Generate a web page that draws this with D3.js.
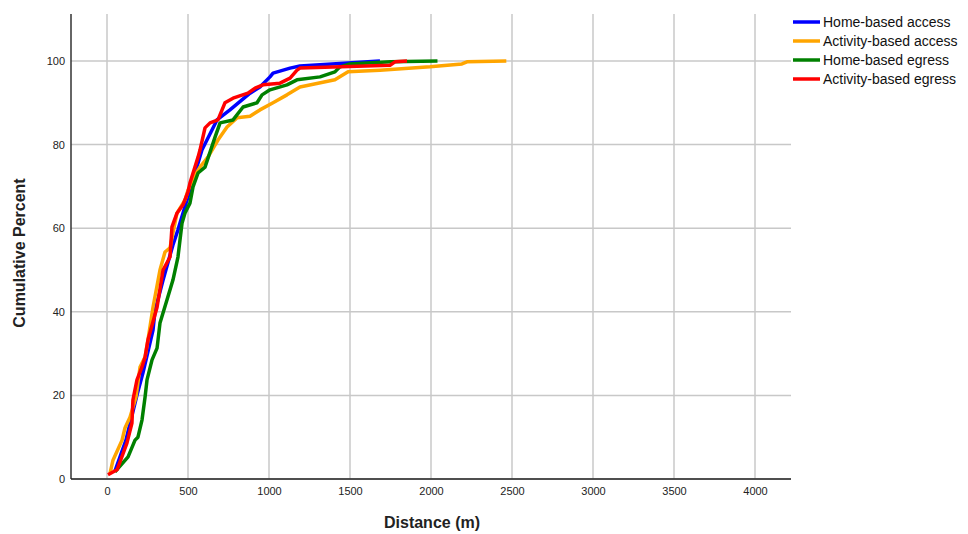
<!DOCTYPE html>
<html>
<head>
<meta charset="utf-8">
<script src="https://cdn.jsdelivr.net/npm/d3@7"></script>
<style>
  body { margin: 0; background: #fff; }
  svg { font-family: "Liberation Sans", Arial, sans-serif; }
</style>
</head>
<body>
<svg id="chart" width="968" height="534"></svg>
<script>
// distance (m) and cumulative percent
var homeAccessDist = [49, 117, 185, 222, 284, 296, 346, 407, 438, 512, 586, 617, 679, 759, 833, 883, 944, 1006, 1025, 1130, 1191, 1685];
var homeAccessPct  = [1.9, 9.3, 20.1, 25.4, 35.6, 40.2, 47.6, 56.0, 59.6, 69.1, 78.7, 81.1, 85.9, 88.3, 90.7, 92.3, 93.8, 96.2, 97.1, 98.3, 98.8, 100];

var actAccessDist = [19, 37, 93, 111, 142, 179, 204, 235, 253, 284, 327, 358, 389, 407, 432, 481, 500, 543, 574, 623, 685, 741, 802, 883, 944, 1025, 1111, 1191, 1407, 1488, 1685, 1994, 2191, 2222, 2465];
var actAccessPct  = [1.4, 4.5, 9.3, 12.2, 14.8, 19.6, 26.8, 29.2, 33.3, 41.1, 50.0, 54.3, 55.3, 58.9, 63.6, 66.7, 69.1, 72.7, 74.6, 77.0, 81.1, 84.2, 86.4, 86.8, 88.3, 90.0, 91.9, 93.8, 95.5, 97.4, 97.8, 98.6, 99.3, 99.8, 100];

var homeEgressDist = [49, 130, 173, 191, 216, 235, 247, 278, 309, 327, 370, 407, 438, 463, 481, 512, 531, 562, 605, 667, 698, 778, 840, 926, 957, 1006, 1111, 1173, 1315, 1407, 1438, 1500, 1750, 2040];
var homeEgressPct  = [1.7, 5.3, 9.3, 10.0, 14.1, 19.6, 23.7, 28.5, 31.3, 37.3, 42.8, 47.6, 53.1, 61.2, 63.6, 66.0, 69.9, 73.2, 74.6, 81.8, 85.2, 85.9, 89.0, 90.0, 91.9, 93.1, 94.3, 95.5, 96.2, 97.4, 98.6, 99.3, 99.8, 100];

var actEgressDist = [6, 62, 123, 154, 160, 185, 216, 235, 253, 309, 346, 389, 401, 432, 469, 500, 512, 562, 574, 605, 636, 685, 728, 778, 870, 914, 963, 1068, 1130, 1173, 1191, 1747, 1778, 1852];
var actEgressPct  = [1.0, 2.2, 8.6, 13.4, 18.9, 23.7, 26.8, 29.2, 33.3, 41.1, 50.0, 53.1, 60.3, 63.6, 65.6, 68.7, 70.8, 77.0, 78.7, 84.0, 85.2, 85.9, 90.0, 91.1, 92.3, 93.5, 94.3, 94.7, 95.9, 97.8, 98.3, 99.0, 99.8, 100];

var seriesNames  = ["Home-based access", "Activity-based access", "Home-based egress", "Activity-based egress"];
var seriesColors = ["#0000ff", "#ffa500", "#008000", "#ff0000"];
var xTicks = [0, 500, 1000, 1500, 2000, 2500, 3000, 3500, 4000];
var yTicks = [0, 20, 40, 60, 80, 100];

var series = [
    [homeAccessDist, homeAccessPct],
    [actAccessDist, actAccessPct],
    [homeEgressDist, homeEgressPct],
    [actEgressDist, actEgressPct]
].map(function (s, i) {
    return {
        name: seriesNames[i],
        color: seriesColors[i],
        values: s[0].map(function (d, j) { return {x: d, y: s[1][j]}; })
    };
});

var svg = d3.select("#chart");

// plot frame (window.top is taken, so plotTop)
var plotLeft = 71, plotRight = 791, plotTop = 14, plotBottom = 479;

var x = d3.scaleLinear().domain([0, 4000]).range([107, 755]);
var y = d3.scaleLinear().domain([0, 100]).range([479, 61]);

// grid
var grid = svg.append("g").attr("stroke", "#c8c8c8").attr("stroke-width", 1.5);
grid.selectAll("line.v")
    .data(xTicks)
    .enter()
    .append("line")
    .attr("class", "v")
    .attr("x1", function (d) { return x(d); })
    .attr("x2", function (d) { return x(d); })
    .attr("y1", plotTop)
    .attr("y2", plotBottom);
grid.selectAll("line.h")
    .data(yTicks)
    .enter()
    .append("line")
    .attr("class", "h")
    .attr("x1", plotLeft)
    .attr("x2", plotRight)
    .attr("y1", function (d) { return y(d); })
    .attr("y2", function (d) { return y(d); });

// axes (labels only, lines drawn below)
var xAxis = svg.append("g")
    .attr("transform", "translate(0," + plotBottom + ")")
    .call(d3.axisBottom(x).tickValues(xTicks).tickSize(0).tickPadding(8).tickFormat(d3.format("d")));
var yAxis = svg.append("g")
    .attr("transform", "translate(" + plotLeft + ",0)")
    .call(d3.axisLeft(y).tickValues(yTicks).tickSize(0).tickPadding(6).tickFormat(d3.format("d")));
[xAxis, yAxis].forEach(function (a) {
    a.select(".domain").remove();
    a.selectAll("text").attr("font-size", 11).attr("fill", "#222");
});

svg.append("line")
    .attr("x1", plotLeft).attr("x2", plotLeft)
    .attr("y1", plotTop).attr("y2", plotBottom)
    .attr("stroke", "#333").attr("stroke-width", 1.5);
svg.append("line")
    .attr("x1", plotLeft).attr("x2", plotRight)
    .attr("y1", plotBottom).attr("y2", plotBottom)
    .attr("stroke", "#222").attr("stroke-width", 1.5);

// curves
var line = d3.line()
    .x(function (d) { return x(d.x); })
    .y(function (d) { return y(d.y); });

svg.append("g")
    .selectAll("path")
    .data(series)
    .enter()
    .append("path")
    .attr("d", function (d) { return line(d.values); })
    .attr("fill", "none")
    .attr("stroke", function (d) { return d.color; })
    .attr("stroke-width", 3.5)
    .attr("stroke-linejoin", "round");

// axis titles
svg.append("text")
    .attr("x", 432).attr("y", 528)
    .attr("text-anchor", "middle")
    .attr("font-size", 16).attr("font-weight", "bold")
    .attr("fill", "#222")
    .text("Distance (m)");
svg.append("text")
    .attr("transform", "translate(25,253) rotate(-90)")
    .attr("text-anchor", "middle")
    .attr("font-size", 16).attr("font-weight", "bold")
    .attr("fill", "#222")
    .text("Cumulative Percent");

// legend
var legend = svg.append("g")
    .selectAll("g")
    .data(series)
    .enter()
    .append("g")
    .attr("transform", function (d, i) { return "translate(793," + (22 + i * 19) + ")"; });
legend.append("line")
    .attr("x1", 0).attr("x2", 27)
    .attr("stroke", function (d) { return d.color; })
    .attr("stroke-width", 3.5);
legend.append("text")
    .attr("x", 30).attr("y", 0)
    .attr("dy", "0.35em")
    .attr("font-size", 14)
    .attr("fill", "#111")
    .text(function (d) { return d.name; });
</script>
</body>
</html>
